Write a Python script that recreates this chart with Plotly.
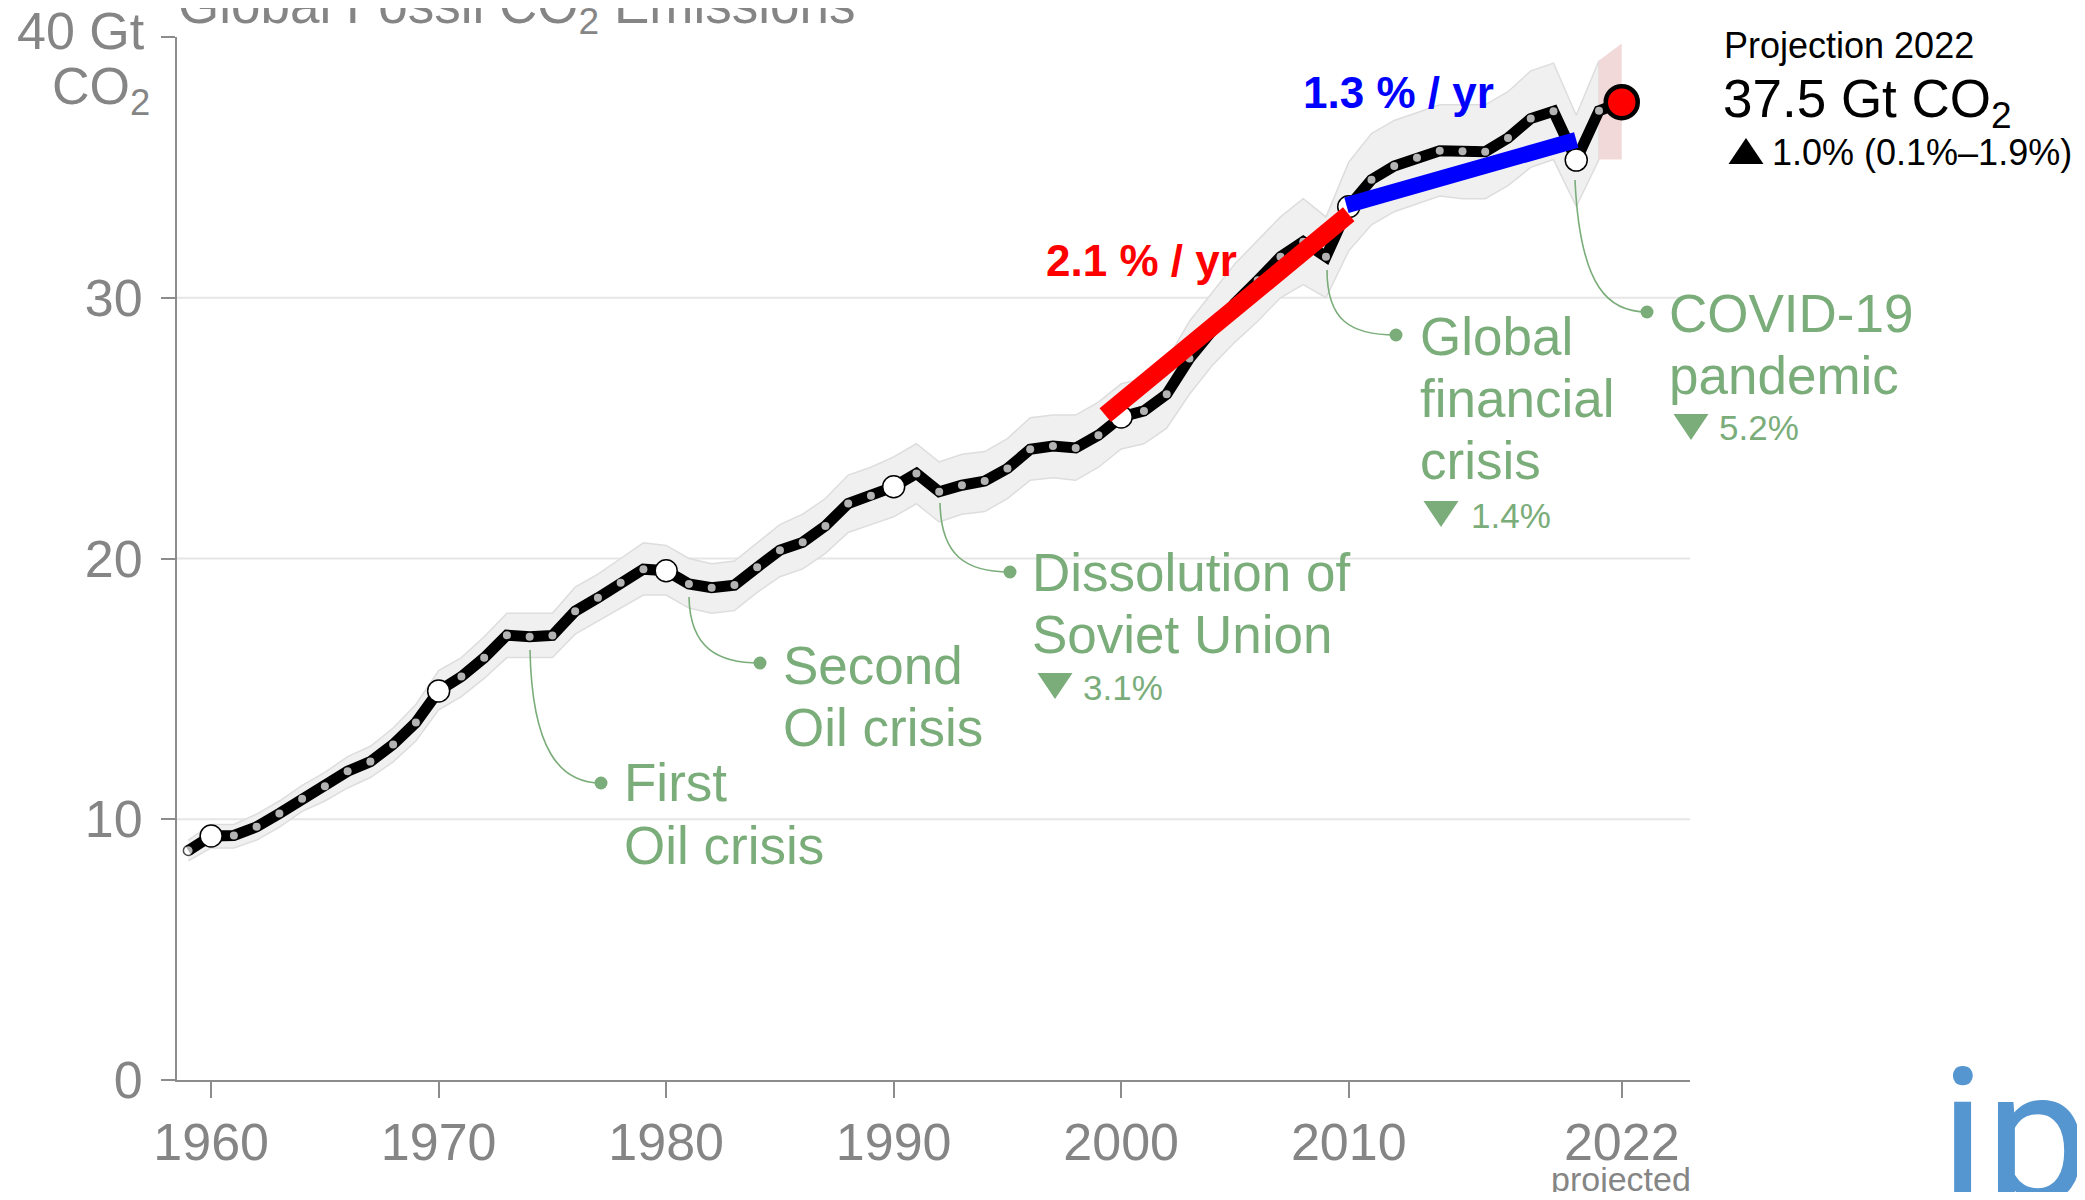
import plotly.graph_objects as go

# ---------------- data ----------------
years = list(range(1959, 2023))
emissions = [8.80, 9.36, 9.38, 9.71, 10.22, 10.79, 11.27, 11.84, 12.21, 12.87,
             13.71, 14.92, 15.47, 16.19, 17.06, 17.00, 17.05, 17.98, 18.49, 19.07,
             19.59, 19.53, 19.02, 18.88, 18.98, 19.66, 20.32, 20.62, 21.25, 22.11,
             22.41, 22.75, 23.26, 22.56, 22.81, 22.97, 23.45, 24.19, 24.31, 24.24,
             24.73, 25.43, 25.66, 26.30, 27.67, 28.80, 29.80, 30.67, 31.57, 32.15,
             31.57, 33.49, 34.53, 35.05, 35.37, 35.64, 35.62, 35.60, 36.13, 36.87,
             37.15, 35.28, 37.17, 37.50]

band_years = list(range(1959, 2022))
band_upper = [9.2, 9.8, 9.8, 10.2, 10.7, 11.3, 11.8, 12.4, 12.8, 13.5,
              14.4, 15.7, 16.2, 17.0, 17.9, 17.9, 17.9, 18.9, 19.4, 20.0,
              20.6, 20.5, 20.0, 19.8, 19.9, 20.6, 21.3, 21.7, 22.3, 23.2,
              23.5, 23.9, 24.4, 23.7, 24.0, 24.1, 24.6, 25.4, 25.5, 25.5,
              26.0, 26.7, 26.9, 27.6, 29.1, 30.2, 31.3, 32.2, 33.1, 33.8,
              33.1, 35.2, 36.3, 36.8, 37.1, 37.4, 37.4, 37.4, 37.9, 38.7,
              39.0, 37.0, 39.1]
band_lower = [8.4, 8.9, 8.9, 9.2, 9.7, 10.3, 10.7, 11.2, 11.6, 12.2,
              13.0, 14.2, 14.7, 15.4, 16.2, 16.2, 16.2, 17.1, 17.6, 18.1,
              18.6, 18.6, 18.1, 17.9, 18.0, 18.7, 19.3, 19.6, 20.2, 21.0,
              21.3, 21.6, 22.1, 21.4, 21.7, 21.8, 22.3, 23.0, 23.1, 23.0,
              23.5, 24.2, 24.4, 25.0, 26.3, 27.4, 28.3, 29.1, 30.0, 30.5,
              30.0, 31.8, 32.8, 33.3, 33.6, 33.9, 33.8, 33.8, 34.3, 35.0,
              35.3, 33.5, 35.3]

proj_years = [2021, 2022]
proj_upper = [39.1, 39.75]
proj_lower = [35.3, 35.3]

decade_years = [1960, 1970, 1980, 1990, 2000, 2010, 2020]
projection_year = 2022

trend_red_years = [1999.3, 2010.0]
trend_red_vals = [25.5, 33.2]
trend_blue_years = [2009.9, 2020.0]
trend_blue_vals = [33.55, 36.05]

xtick_vals = [1960, 1970, 1980, 1990, 2000, 2010, 2022]
xtick_text = ["1960", "1970", "1980", "1990", "2000", "2010", "2022"]
ytick_vals = [0, 10, 20, 30, 40]
ytick_text = ["0", "10", "20", "30", ""]
grid_vals = [10, 20, 30]

# ---------------- styling / geometry ----------------
# page has an 8px body margin; figure is placed at (8, 8)
OFF = 8
W, H = 2085, 1200
FW, FH = W - 2 * OFF, H - 2 * OFF
PLOT_L, PLOT_R, PLOT_T, PLOT_B = 177, 1690, 37, 1080   # in page pixels
L = PLOT_L - OFF
T = PLOT_T - OFF
R = FW - (PLOT_R - OFF)
B = FH - (PLOT_B - OFF)
PW, PH = PLOT_R - PLOT_L, PLOT_B - PLOT_T
FONT = "Liberation Sans, Arial, sans-serif"
GRAY = "#858585"
AXIS = "#8c8c8c"
GREEN = "#7aad7a"


def fx(px):
    return (px - PLOT_L) / PW


def fy(py):
    return (PLOT_B - py) / PH


fig = go.Figure()

# uncertainty band
fig.add_trace(go.Scatter(
    x=band_years + band_years[::-1], y=band_upper + band_lower[::-1],
    fill="toself", fillcolor="#f0f0f0", mode="lines",
    line=dict(color="#dddddd", width=1.5), hoverinfo="skip"))
# projection band
fig.add_trace(go.Scatter(
    x=proj_years + proj_years[::-1], y=proj_upper + proj_lower[::-1],
    fill="toself", fillcolor="#f2d9d9", mode="lines",
    line=dict(color="#f2d9d9", width=0), hoverinfo="skip"))

# main line
fig.add_trace(go.Scatter(x=years, y=emissions, mode="lines",
                         line=dict(color="black", width=11), cliponaxis=False))

# small dots
sx, sy, ssize, slw = [], [], [], []
for yr, v in zip(years, emissions):
    if yr in decade_years or yr == projection_year:
        continue
    sx.append(yr)
    sy.append(v)
    ssize.append(10 if yr == years[0] else 8)
    slw.append(1.5 if yr == years[0] else 0)
fig.add_trace(go.Scatter(x=sx, y=sy, mode="markers", cliponaxis=False,
                         marker=dict(color="white", size=ssize,
                                     line=dict(color="black", width=slw))))
# decade circles
dx = [yr for yr in years if yr in decade_years]
dy = [v for yr, v in zip(years, emissions) if yr in decade_years]
fig.add_trace(go.Scatter(x=dx, y=dy, mode="markers", cliponaxis=False,
                         marker=dict(color="white", size=22,
                                     line=dict(color="black", width=1.5))))
# projection point
fig.add_trace(go.Scatter(x=[projection_year], y=[emissions[years.index(projection_year)]],
                         mode="markers", cliponaxis=False,
                         marker=dict(color="red", size=32,
                                     line=dict(color="black", width=4.5))))
# trend lines
fig.add_trace(go.Scatter(x=trend_red_years, y=trend_red_vals, mode="lines",
                         line=dict(color="#ff0000", width=18), cliponaxis=False))
fig.add_trace(go.Scatter(x=trend_blue_years, y=trend_blue_vals, mode="lines",
                         line=dict(color="#0000ff", width=16), cliponaxis=False))

shapes = []
for g in grid_vals:
    shapes.append(dict(type="line", xref="paper", yref="y", x0=0, x1=1, y0=g, y1=g,
                       line=dict(color="#e6e6e6", width=2), layer="below"))

# leader lines (page pixel positions)
leaders = [
    [(530, 650), (532, 750), (560, 783), (601, 783)],
    [(689, 597), (690, 650), (720, 663), (760, 663)],
    [(940, 503), (941, 555), (965, 572), (1010, 572)],
    [(1327, 270), (1327, 320), (1350, 335), (1396, 335)],
    [(1575, 180), (1580, 290), (1610, 312), (1647, 312)],
]
for pts in leaders:
    p = "M {},{} C {},{} {},{} {},{}".format(
        fx(pts[0][0]), fy(pts[0][1]), fx(pts[1][0]), fy(pts[1][1]),
        fx(pts[2][0]), fy(pts[2][1]), fx(pts[3][0]), fy(pts[3][1]))
    shapes.append(dict(type="path", xref="paper", yref="paper", path=p,
                       line=dict(color=GREEN, width=1.6)))
    shapes.append(dict(type="circle", xref="paper", yref="paper",
                       xsizemode="pixel", ysizemode="pixel",
                       xanchor=fx(pts[3][0]), yanchor=fy(pts[3][1]),
                       x0=-6.5, x1=6.5, y0=-6.5, y1=6.5,
                       fillcolor=GREEN, line=dict(width=0)))


def tri(cx, cy, color, down=True):
    path = "M -17.5,13 L 17.5,13 L 0,-13 Z" if down else "M -17.5,-12 L 17.5,-12 L 0,14 Z"
    return dict(type="path", xref="paper", yref="paper",
                xsizemode="pixel", ysizemode="pixel",
                xanchor=fx(cx), yanchor=fy(cy), path=path,
                fillcolor=color, line=dict(width=0))


shapes.append(tri(1055, 686, GREEN))
shapes.append(tri(1441, 514, GREEN))
shapes.append(tri(1691, 427, GREEN))
shapes.append(tri(1746, 152, "black", down=False))

annotations = []


def ann(text, x, y, size, color=GRAY, xanchor="left", family=FONT):
    annotations.append(dict(text=text, x=fx(x), y=fy(y), xref="paper", yref="paper",
                            xanchor=xanchor, yanchor="middle", showarrow=False,
                            borderpad=0, borderwidth=0,
                            font=dict(size=size, color=color, family=family)))


ann("Global Fossil CO<sub>2</sub> Emissions", 178, 8, 53)
ann("40 Gt", 145, 31, 52, xanchor="right")
ann("CO<sub>2</sub>", 150, 90, 52, xanchor="right")
ann("projected", 1621, 1179, 34, xanchor="center")

for text, x, y in [("First", 624, 783), ("Oil crisis", 624, 845),
                   ("Second", 783, 665), ("Oil crisis", 783, 727),
                   ("Dissolution of", 1032, 572), ("Soviet Union", 1032, 634),
                   ("Global", 1420, 336), ("financial", 1420, 398), ("crisis", 1420, 460),
                   ("COVID-19", 1669, 313), ("pandemic", 1669, 375)]:
    ann(text, x, y, 53, GREEN)
for text, x, y in [("3.1%", 1083, 687), ("1.4%", 1471, 515), ("5.2%", 1719, 427)]:
    ann(text, x, y, 35, GREEN)

ann("Projection 2022", 1724, 45, 36, "black")
ann("37.5 Gt CO<sub>2</sub>", 1723, 103, 53, "black")
ann("1.0% (0.1%–1.9%)", 1772, 152, 36, "black")

ann("<b>2.1 % / yr</b>", 1046, 260, 44, "#ff0000")
ann("<b>1.3 % / yr</b>", 1303, 92, 44, "#0000ff")

ann("ipcc", 1940, 1136, 186, "#5596d0", family="Roboto, sans-serif")

fig.update_layout(
    width=FW, height=FH,
    margin=dict(l=L, r=R, t=T, b=B, autoexpand=False),
    paper_bgcolor="white", plot_bgcolor="white",
    showlegend=False,
    shapes=shapes, annotations=annotations,
    font=dict(family=FONT, color=GRAY),
    xaxis=dict(range=[1958.5, 2025], tickmode="array", tickvals=xtick_vals,
               ticktext=xtick_text, ticks="outside", ticklen=16, tickwidth=2,
               tickcolor=AXIS, showline=True, linecolor=AXIS, linewidth=2,
               showgrid=False, zeroline=False,
               tickfont=dict(size=52, color=GRAY, family=FONT)),
    yaxis=dict(range=[0, 40], tickmode="array", tickvals=ytick_vals,
               ticktext=ytick_text, ticks="outside", ticklen=14, tickwidth=2,
               tickcolor=AXIS, showline=True, linecolor=AXIS, linewidth=2,
               showgrid=False, zeroline=False, ticklabelstandoff=8,
               tickfont=dict(size=52, color=GRAY, family=FONT)),
)

fig.write_html("out.html")
